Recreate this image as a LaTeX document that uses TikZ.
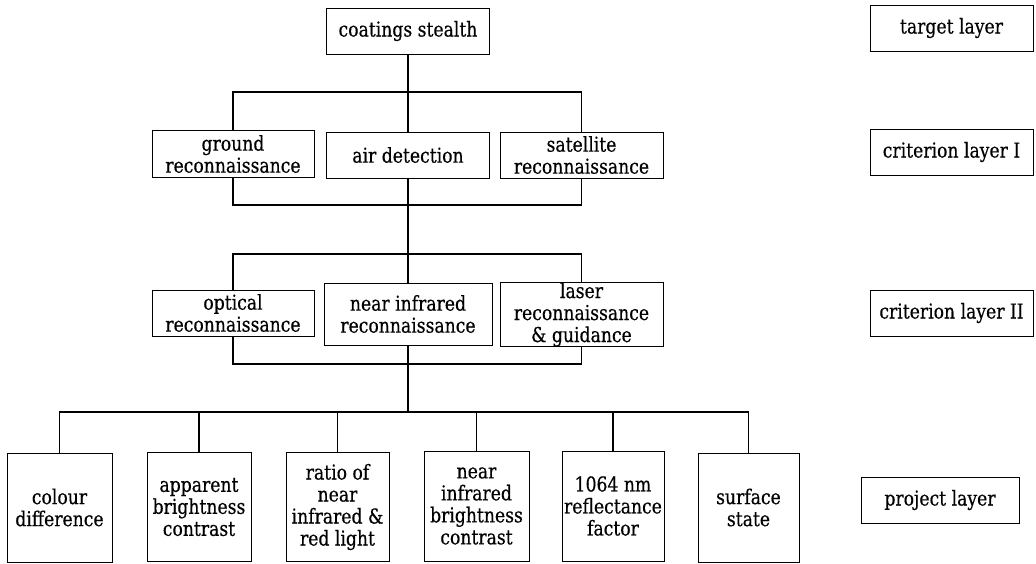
\documentclass[tikz,border=0pt]{standalone}
\usepackage{fontspec}
\setmainfont{DejaVu Serif}[FakeStretch=0.84,FakeBold=0.4]

\begin{document}
\begin{tikzpicture}[x=1pt,y=-1pt,
		box/.style={draw,line width=1pt,inner sep=0pt,align=center,font=\fontsize{20.5}{22}\selectfont},
		conn/.style={line width=1.6pt}]
	\useasboundingbox (0,0) rectangle (1036,563);
	% hierarchy
	\node[box,minimum width=163,minimum height=46] (stealth) at (408,31) {coatings stealth};
	\node[box,minimum width=162,minimum height=47] (ground) at (233,154) {ground\\reconnaissance};
	\node[box,minimum width=163,minimum height=46] (air) at (408,155) {air detection};
	\node[box,minimum width=163,minimum height=46] (sat) at (581.5,155) {satellite\\reconnaissance};
	\node[box,minimum width=162,minimum height=46] (optical) at (233,313) {optical\\reconnaissance};
	\node[box,minimum width=168,minimum height=62] (nir) at (408,314) {near infrared\\reconnaissance};
	\node[box,minimum width=163,minimum height=61] (laser) at (581.5,314.5) {laser\\reconnaissance\\\& guidance};
	\node[box,minimum width=105,minimum height=109] (colour) at (59.5,507.5) {colour\\difference};
	\node[box,minimum width=104,minimum height=109] (appbright) at (199,507) {apparent\\brightness\\contrast};
	\node[box,minimum width=103,minimum height=109] (ratio) at (337.5,507) {ratio of\\near\\infrared \&\\red light};
	\node[box,minimum width=105,minimum height=110] (nirbright) at (476.5,506) {near\\infrared\\brightness\\contrast};
	\node[box,minimum width=102,minimum height=110] (refl) at (613,506) {1064 nm\\reflectance\\factor};
	\node[box,minimum width=101,minimum height=109] (surface) at (748.5,507.5) {surface\\state};
	% layer names
	\node[box,minimum width=163,minimum height=46] (target) at (951.5,28) {target layer};
	\node[box,minimum width=163,minimum height=46] (crit1) at (951.5,152) {criterion layer I};
	\node[box,minimum width=163,minimum height=46] (crit2) at (951.5,313) {criterion layer II};
	\node[box,minimum width=158,minimum height=46] (project) at (940,500) {project layer};

	\coordinate (bus1) at (408,92);
	\coordinate (bus2) at (408,205);
	\coordinate (bus3) at (408,254);
	\coordinate (bus4) at (408,364);
	\coordinate (bus5) at (408,412);

	\draw[conn] (stealth) -- (air);
	\draw[conn] (ground.north) |- (bus1) -| (sat.north);
	\draw[conn] (ground.south) |- (bus2) -| (sat.south);
	\draw[conn] (air) -- (nir);
	\draw[conn] (optical.north) |- (bus3) -| (laser.north);
	\draw[conn] (optical.south) |- (bus4) -| (laser.south);
	\draw[conn] (nir) -- (bus5);
	\draw[conn] (colour.north) |- (bus5) -| (surface.north);
	\foreach \n in {appbright,ratio,nirbright,refl}
		\draw[conn] (\n.north) -- (\n.north |- bus5);
\end{tikzpicture}
\end{document}
